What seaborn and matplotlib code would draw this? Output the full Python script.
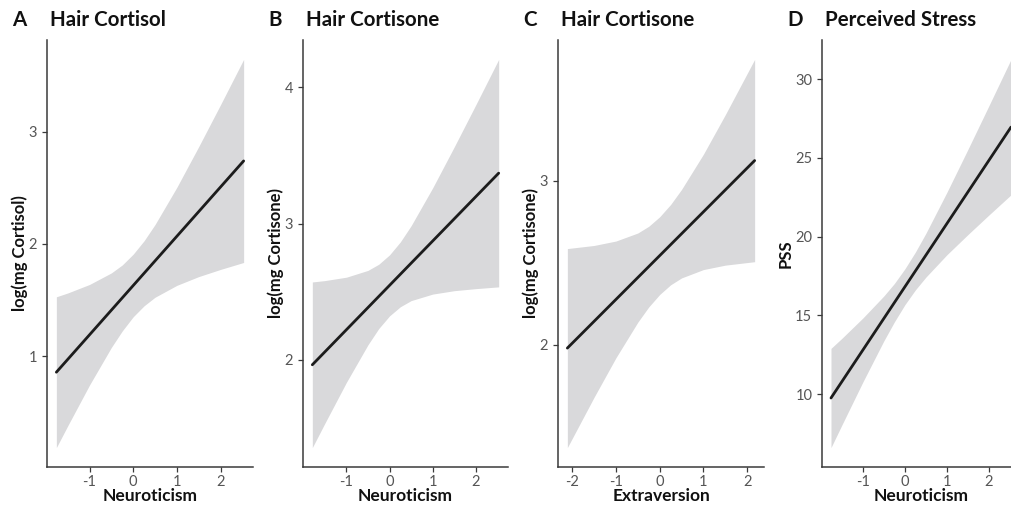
import matplotlib
matplotlib.use("Agg")
import matplotlib.pyplot as plt
import seaborn as sns
import numpy as np

# ---------------- data ----------------
# Panel A: Hair Cortisol vs Neuroticism
a_line_x = [-1.76, 2.53]
a_line_y = [0.857, 2.740]
a_band_x = [-1.76, -1.5, -1.0, -0.5, -0.25, 0.0, 0.25, 0.5, 1.0, 1.5, 2.0, 2.53]
a_lower = [0.185, 0.379, 0.743, 1.078, 1.225, 1.351, 1.449, 1.525, 1.631, 1.709, 1.773, 1.835]
a_upper = [1.529, 1.563, 1.639, 1.742, 1.813, 1.909, 2.029, 2.173, 2.505, 2.867, 3.241, 3.645]

# Panel B: Hair Cortisone vs Neuroticism
b_line_x = [-1.79, 2.53]
b_line_y = [1.963, 3.370]
b_band_x = [-1.79, -1.5, -1.0, -0.5, -0.25, 0.0, 0.25, 0.5, 1.0, 1.5, 2.0, 2.53]
b_lower = [1.355, 1.533, 1.834, 2.110, 2.229, 2.322, 2.389, 2.434, 2.482, 2.507, 2.522, 2.535]
b_upper = [2.571, 2.581, 2.606, 2.656, 2.701, 2.770, 2.865, 2.984, 3.262, 3.563, 3.872, 4.205]

# Panel C: Hair Cortisone vs Extraversion
c_line_x = [-2.11, 2.17]
c_line_y = [1.980, 3.124]
c_band_x = [-2.11, -1.5, -1.0, -0.5, -0.25, 0.0, 0.25, 0.5, 1.0, 1.5, 2.17]
c_lower = [1.373, 1.680, 1.921, 2.138, 2.231, 2.307, 2.366, 2.408, 2.459, 2.486, 2.507]
c_upper = [2.587, 2.606, 2.633, 2.682, 2.723, 2.781, 2.856, 2.948, 3.163, 3.404, 3.741]

# Panel D: Perceived Stress vs Neuroticism
d_line_x = [-1.76, 2.53]
d_line_y = [9.75, 26.95]
d_band_x = [-1.76, -1.5, -1.0, -0.5, -0.25, 0.0, 0.25, 0.5, 1.0, 1.5, 2.0, 2.53]
d_lower = [6.60, 8.04, 10.77, 13.38, 14.58, 15.67, 16.61, 17.42, 18.84, 20.12, 21.36, 22.65]
d_upper = [12.90, 13.54, 14.83, 16.23, 17.02, 17.95, 19.01, 20.20, 22.80, 25.52, 28.29, 31.25]

letters = ["A", "B", "C", "D"]
titles = ["Hair Cortisol", "Hair Cortisone", "Hair Cortisone", "Perceived Stress"]
xlabels = ["Neuroticism", "Neuroticism", "Extraversion", "Neuroticism"]
ylabels = ["log(mg Cortisol)", "log(mg Cortisone)", "log(mg Cortisone)", "PSS"]
xticks = [[-1, 0, 1, 2], [-1, 0, 1, 2], [-2, -1, 0, 1, 2], [-1, 0, 1, 2]]
yticks = [[1, 2, 3], [2, 3, 4], [2, 3], [10, 15, 20, 25, 30]]

panels = [
    (a_line_x, a_line_y, a_band_x, a_lower, a_upper),
    (b_line_x, b_line_y, b_band_x, b_lower, b_upper),
    (c_line_x, c_line_y, c_band_x, c_lower, c_upper),
    (d_line_x, d_line_y, d_band_x, d_lower, d_upper),
]

# ---------------- style ----------------
sns.set_theme(style="ticks")
plt.rcParams["font.family"] = ["Lato", "DejaVu Sans"]
plt.rcParams["axes.unicode_minus"] = False

W, H = 1012, 507
fig = plt.figure(figsize=(W / 100, H / 100), dpi=100)
fig.patch.set_facecolor("white")

# axes pixel boxes (left, right); top=40, bottom=467
boxes = [(47, 253), (303, 508), (558, 764), (822, 1020)]
ylab_off = [19, 19, 19, 28]
top_px, bot_px = 40, 467

axis_col = "#3a3a3a"
tick_col = "#555555"
band_col = "#d9d9db"

for i, (lx, ly, bx, lo, up) in enumerate(panels):
    l, r = boxes[i]
    ax = fig.add_axes([l / W, (H - bot_px) / H, (r - l) / W, (bot_px - top_px) / H])
    ax.fill_between(bx, lo, up, color=band_col, linewidth=0, zorder=1)
    sns.lineplot(x=lx, y=ly, ax=ax, color="#1c1c1c", linewidth=2.0, zorder=3)

    xmin = min(min(bx), min(lx)); xmax = max(max(bx), max(lx))
    ymin = min(lo); ymax = max(up)
    dx = (xmax - xmin) * 0.05; dy = (ymax - ymin) * 0.05
    ax.set_xlim(xmin - dx, xmax + dx)
    ax.set_ylim(ymin - dy, ymax + dy)
    ax.set_xticks(xticks[i])
    ax.set_yticks(yticks[i])
    ax.set_xticklabels([str(v) for v in xticks[i]])
    ax.set_yticklabels([str(v) for v in yticks[i]])

    for s in ["top", "right"]:
        ax.spines[s].set_visible(False)
    for s in ["left", "bottom"]:
        ax.spines[s].set_color(axis_col)
        ax.spines[s].set_linewidth(1.1)
    ax.tick_params(axis="both", colors=axis_col, labelcolor=tick_col, labelsize=10.5,
                   length=3.5, width=0.9)
    ax.tick_params(axis="y", pad=3.5)
    ax.tick_params(axis="x", pad=2.5)
    ax.set_facecolor("white")

    ax.set_xlabel(xlabels[i], fontsize=12.5, fontweight="bold", color="#111111")
    ax.set_ylabel(ylabels[i], fontsize=12, fontweight="bold", color="#111111")
    ax.xaxis.set_label_coords(0.5, -(488 - bot_px) / (bot_px - top_px))
    ax.yaxis.set_label_coords(-ylab_off[i] / (r - l), 0.5)

    fig.text((l - 35) / W, 1 - 20 / H, letters[i], fontsize=14.8, fontweight="bold",
             color="#111111", ha="left", va="center")
    fig.text((l + 3) / W, 1 - 20 / H, titles[i], fontsize=14.8, fontweight="bold",
             color="#111111", ha="left", va="center")

fig.savefig("out.png", dpi=100, facecolor="white")
